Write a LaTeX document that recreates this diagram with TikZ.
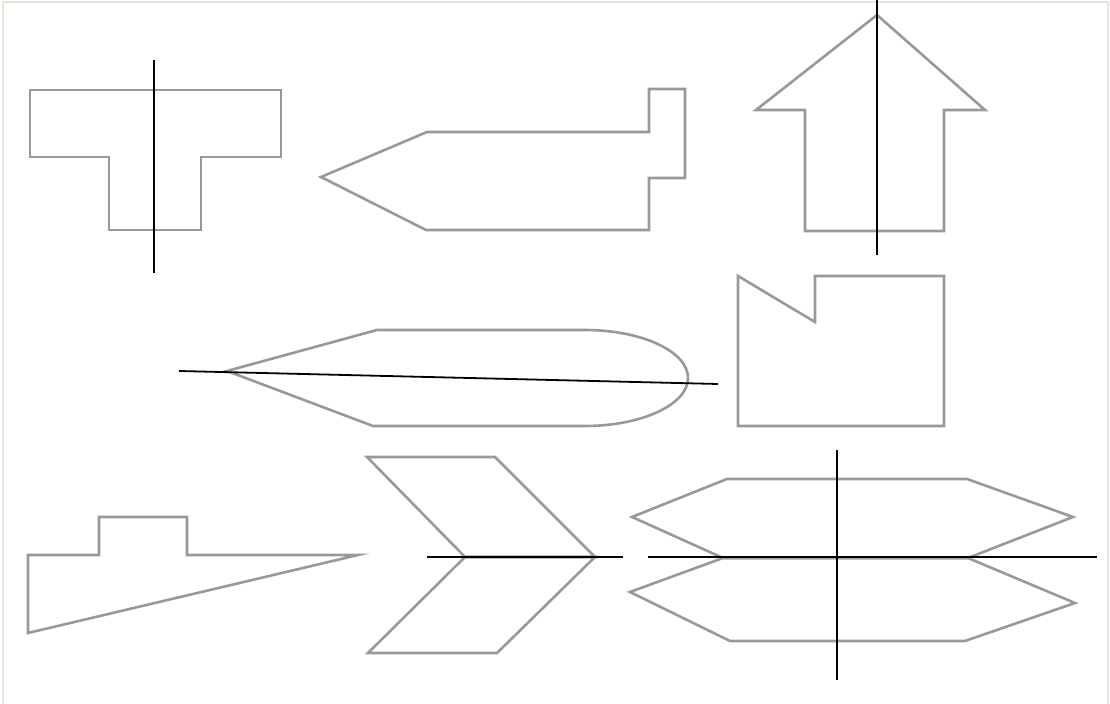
\documentclass[tikz,border=0pt]{standalone}
\begin{document}
\begin{tikzpicture}[x=0.5pt,y=-0.5pt,
  outline/.style={draw=black!40, line width=1.3pt, line join=miter},
  axisline/.style={draw=black, line width=0.9pt},
  frameline/.style={draw=black!8!white!92!orange, line width=1pt}]
\useasboundingbox (0,0) rectangle (1110,704);
\fill[white] (0,0) rectangle (1110,704);
\draw[frameline] (3,720) -- (3,2) -- (1108,2) -- (1108,720);
% T shape
\draw[outline] (30,90) -- (281,90) -- (281,157) -- (201,157) -- (201,230) -- (109,230) -- (109,157) -- (30,157) -- cycle;
\draw[axisline] (154,60) -- (154,273);
% pencil shape
\draw[outline] (321,177) -- (427,132) -- (649,132) -- (649,89) -- (685,89) -- (685,178) -- (649,178) -- (649,230) -- (426,230) -- cycle;
% up arrow
\draw[outline] (877,15) -- (985,110) -- (944,110) -- (944,231) -- (805,231) -- (805,110) -- (756,110) -- cycle;
\draw[axisline] (877,0) -- (877,255);
% bullet with round end
\draw[outline] (227,371) -- (377,330) -- (585,330) arc[start angle=-90, end angle=90, x radius=103, y radius=48] -- (373,426) -- cycle;
\draw[axisline] (179,371) -- (718,384);
% notched square
\draw[outline] (738,276) -- (815,322) -- (815,276) -- (944,276) -- (944,426) -- (738,426) -- cycle;
% flag / triangle
\draw[outline] (28,555) -- (99,555) -- (99,517) -- (187,517) -- (187,555) -- (358,555) -- (28,633) -- cycle;
% chevron
\draw[outline] (367,457) -- (495,457) -- (595,557) -- (465,557) -- cycle;
\draw[outline] (465,557) -- (595,557) -- (497,653) -- (368,653) -- cycle;
\draw[axisline] (427,557) -- (623,557);
% two hexagons
\draw[outline] (632,517) -- (727,479) -- (967,479) -- (1073,517) -- (968,558) -- (723,558) -- cycle;
\draw[outline] (723,558) -- (968,558) -- (1075,603) -- (965,641) -- (730,641) -- (630,592) -- cycle;
\draw[axisline] (648,557) -- (1097,557);
\draw[axisline] (837,450) -- (837,680);
\end{tikzpicture}
\end{document}
